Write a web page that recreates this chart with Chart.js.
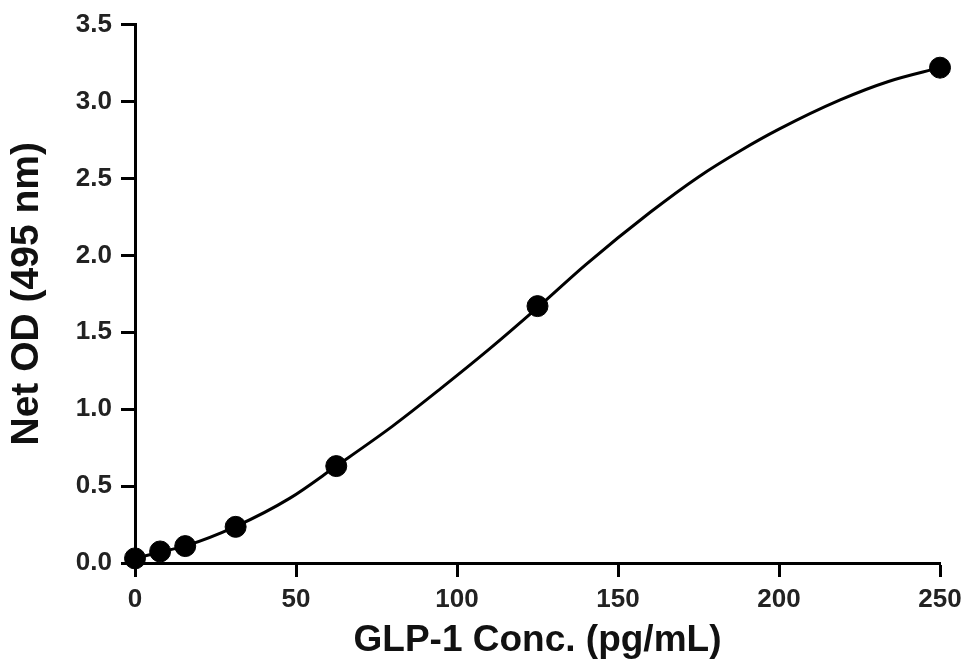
<!DOCTYPE html>
<html>
<head>
<meta charset="utf-8">
<script src="https://cdn.jsdelivr.net/npm/chart.js@4.4.1/dist/chart.umd.min.js"></script>
<style>
html,body{margin:0;padding:0;background:#fff;}
#c{display:block;}
</style>
</head>
<body>
<canvas id="c" width="970" height="669"></canvas>
<script>
// Measured standards
const concentrations = [0, 7.8, 15.6, 31.25, 62.5, 125, 250];
const odValues = [0.03, 0.075, 0.11, 0.235, 0.63, 1.67, 3.22];
// Fitted curve
const fitX = [0, 8, 16, 31, 48, 62.5, 80, 95, 110, 125, 140, 160, 175, 188, 200, 219, 234, 250];
const fitY = [0.03, 0.072, 0.113, 0.235, 0.42, 0.63, 0.89, 1.135, 1.39, 1.66, 1.94, 2.28, 2.51, 2.68, 2.82, 3.01, 3.13, 3.22];
// Axis ticks
const xTicks = [0, 50, 100, 150, 200, 250];
const yTicks = [0, 0.5, 1, 1.5, 2, 2.5, 3, 3.5];

const pts = concentrations.map((x, i) => ({x: x, y: odValues[i]}));
const fit = fitX.map((x, i) => ({x: x, y: fitY[i]}));

const fam = 'Liberation Sans, Arial, sans-serif';
const tickFont = {family: fam, size: 26, weight: 'bold'};

new Chart(document.getElementById('c'), {
  type: 'scatter',
  data: {
    datasets: [
      {
        data: fit,
        showLine: true,
        borderColor: '#000',
        borderWidth: 3,
        pointRadius: 0,
        cubicInterpolationMode: 'monotone',
        fill: false,
        clip: false,
        order: 2
      },
      {
        data: pts,
        showLine: false,
        backgroundColor: '#000',
        borderColor: '#000',
        pointRadius: 10.5,
        pointHoverRadius: 10.5,
        clip: false,
        order: 1
      }
    ]
  },
  options: {
    responsive: false,
    animation: false,
    devicePixelRatio: 1,
    layout: {padding: {left: 0, top: 22, right: 30, bottom: 0}},
    plugins: {legend: {display: false}, tooltip: {enabled: false}},
    scales: {
      x: {
        type: 'linear',
        min: 0, max: 250,
        afterBuildTicks: (s) => { s.ticks = xTicks.map(v => ({value: v})); },
        afterFit: (s) => { s.height = 106; },
        ticks: {font: tickFont, color: '#222', padding: 7, maxRotation: 0},
        grid: {drawOnChartArea: false, drawTicks: true, tickLength: 14, tickWidth: 3, tickColor: '#000', color: '#000'},
        border: {display: true, color: '#000', width: 3},
        title: {display: true, text: 'GLP-1 Conc. (pg/mL)', font: {family: fam, size: 37, weight: 'bold'}, color: '#111', padding: {top: 6, bottom: 6}}
      },
      y: {
        type: 'linear',
        min: 0, max: 3.5,
        afterBuildTicks: (s) => { s.ticks = yTicks.map(v => ({value: v})); },
        afterFit: (s) => { s.width = 135; },
        ticks: {font: tickFont, color: '#222', padding: 9, callback: (v) => Number(v).toFixed(1)},
        grid: {drawOnChartArea: false, drawTicks: true, tickLength: 14, tickWidth: 3, tickColor: '#000', color: '#000'},
        border: {display: true, color: '#000', width: 3},
        title: {display: true, text: 'Net OD (495 nm)', font: {family: fam, size: 39, weight: 'bold'}, color: '#111', padding: {top: 4, bottom: 4}}
      }
    }
  }
});
</script>
</body>
</html>
